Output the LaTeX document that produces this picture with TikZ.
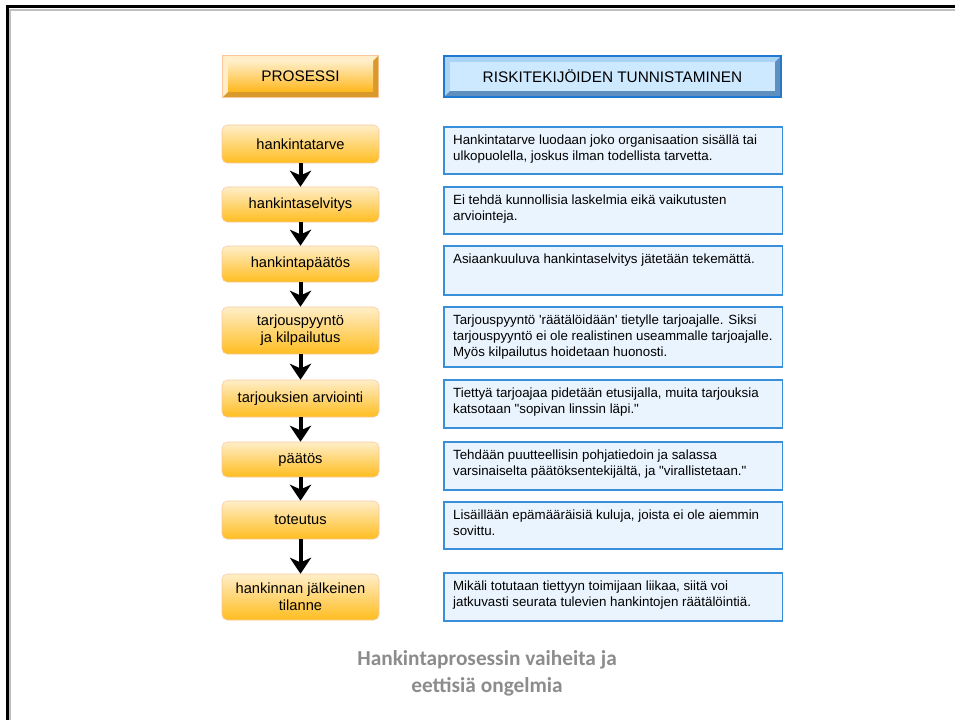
\documentclass[tikz,border=0pt]{standalone}
\usepackage{fontspec}
\setmainfont{Liberation Sans}[Ligatures=TeXOff]
\newfontfamily\titlefont{Carlito}
\usetikzlibrary{arrows.meta, positioning}
\definecolor{procline}{HTML}{F8C79B}
\definecolor{proctop}{HTML}{FFEEC8}
\definecolor{procbot}{HTML}{FFBD1F}
\definecolor{procdark}{HTML}{D99A2B}
\definecolor{riskline}{HTML}{3A8FDB}
\definecolor{riskfill}{HTML}{EAF4FE}
\definecolor{headblue}{HTML}{CDE9FF}
\definecolor{headedge}{HTML}{1F78D1}
\definecolor{headlight}{HTML}{A9D4F5}
\definecolor{headdark}{HTML}{5F8FBF}
\definecolor{titlegray}{HTML}{8C8C8C}
% text of a risk box, kept at the top of the box
\newcommand{\risktext}[2]{\parbox[c][#1][t]{240pt}{\begin{tabular}[t]{@{}l@{}}#2\end{tabular}}}

\begin{document}
\begin{tikzpicture}[x=0.75pt, y=-0.75pt,
    procbox/.style={draw=procline, rounded corners=4pt, top color=proctop, bottom color=procbot,
      minimum width=117.75pt, align=center, inner sep=2pt, font=\fontsize{11}{12.5}\selectfont},
    riskbox/.style={draw=riskline, line width=1.2pt, fill=riskfill, anchor=north west,
      inner xsep=7pt, inner ysep=5pt, font=\fontsize{10}{12}\selectfont},
    flowarrow/.style={line width=3pt, -{Stealth[length=12pt, width=16pt, inset=3.5pt]}}]
  \useasboundingbox (0,0) rectangle (955,720);
  % frame
  \draw[black!25, line width=1pt] (10,720) -- (10,10) -- (955,10);
  \draw[line width=2.25pt] (7,720) -- (7,7) -- (955,7);

  % headers
  \fill[procline] (222,55) rectangle (379,98);
  \fill[proctop] (223,56) rectangle (378,97);
  \fill[procdark] (378,56) -- (373,61) -- (373,92) -- (228,92) -- (223,97) -- (378,97) -- cycle;
  \node[top color=proctop, bottom color=procbot!90!orange, minimum width=108.75pt, minimum height=23.25pt,
    inner sep=0pt, font=\fontsize{11.5}{12}\selectfont] (hproc) at (300.5,76.5) {PROSESSI};

  \fill[headedge] (443,55) rectangle (782,98);
  \fill[headlight] (445,57) rectangle (780,96);
  \fill[headdark] (780,57) -- (775,62) -- (775,91) -- (450,91) -- (445,96) -- (780,96) -- cycle;
  \node[fill=headblue, minimum width=243.75pt, minimum height=21.75pt, inner sep=0pt,
    font=\fontsize{11.5}{12}\selectfont] (hrisk) at (612.5,76.5) {RISKITEKIJÖIDEN TUNNISTAMINEN};

  % process steps
  \node[procbox, minimum height=28.5pt] (p1) at (300.5,144) {hankintatarve};
  \node[procbox, minimum height=26.25pt] (p2) at (300.5,204.5) {hankintaselvitys};
  \node[procbox, minimum height=27pt] (p3) at (300.5,264) {hankintapäätös};
  \node[procbox, minimum height=35.25pt] (p4) at (300.5,330.5) {tarjouspyyntö\\ja kilpailutus};
  \node[procbox, minimum height=27.75pt] (p5) at (300.5,398.5) {tarjouksien arviointi};
  \node[procbox, minimum height=26.25pt] (p6) at (300.5,459.5) {päätös};
  \node[procbox, minimum height=28.5pt] (p7) at (300.5,520) {toteutus};
  \node[procbox, minimum height=34.5pt] (p8) at (300.5,597) {hankinnan jälkeinen\\tilanne};

  \foreach \a/\b in {p1/p2, p2/p3, p3/p4, p4/p5, p5/p6, p6/p7, p7/p8}
    \draw[flowarrow] (\a) -- (\b);

  % risks
  \node[riskbox] (r1) at (443,126) {\risktext{25.25pt}{Hankintatarve luodaan joko organisaation sisällä tai\\ulkopuolella, joskus ilman todellista tarvetta.}};
  \node[riskbox] (r2) at (443,186) {\risktext{25.25pt}{Ei tehdä kunnollisia laskelmia eikä vaikutusten\\arviointeja.}};
  \node[riskbox] (r3) at (443,245) {\risktext{26.75pt}{Asiaankuuluva hankintaselvitys jätetään tekemättä.}};
  \node[riskbox] (r4) at (443,306) {\risktext{35pt}{Tarjouspyyntö 'räätälöidään' tietylle tarjoajalle. Siksi\\tarjouspyyntö ei ole realistinen useammalle tarjoajalle.\\Myös kilpailutus hoidetaan huonosti.}};
  \node[riskbox] (r5) at (443,379) {\risktext{26pt}{Tiettyä tarjoajaa pidetään etusijalla, muita tarjouksia\\katsotaan "sopivan linssin läpi."}};
  \node[riskbox] (r6) at (443,441) {\risktext{26pt}{Tehdään puutteellisin pohjatiedoin ja salassa\\varsinaiselta päätöksentekijältä, ja "virallistetaan."}};
  \node[riskbox] (r7) at (443,501) {\risktext{25.25pt}{Lisäillään epämääräisiä kuluja, joista ei ole aiemmin\\sovittu.}};
  \node[riskbox] (r8) at (443,572) {\risktext{26pt}{Mikäli totutaan tiettyyn toimijaan liikaa, siitä voi\\jatkuvasti seurata tulevien hankintojen räätälöintiä.}};

  \node[font=\titlefont\bfseries\fontsize{16}{20.25}\selectfont, text=titlegray, align=center]
    (title) at (487,673.5) {Hankintaprosessin vaiheita ja\\eettisiä ongelmia};
\end{tikzpicture}
\end{document}
